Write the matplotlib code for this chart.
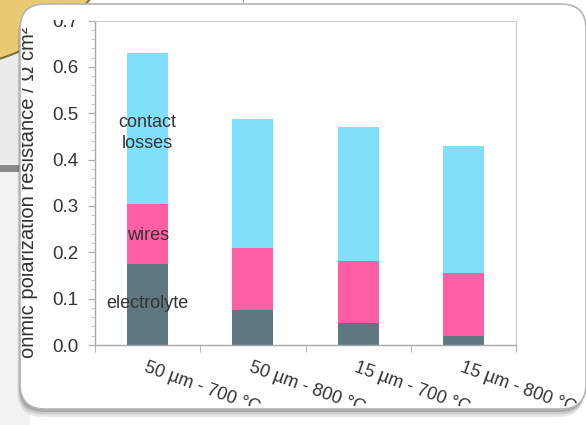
import matplotlib.pyplot as plt
from matplotlib.patches import FancyBboxPatch, Rectangle, Circle
from matplotlib.ticker import MultipleLocator, FixedLocator
import numpy as np

plt.rcParams['font.family'] = ['Liberation Sans', 'DejaVu Sans']

categories = ["50 µm - 700 °C", "50 µm - 800 °C", "15 µm - 700 °C", "15 µm - 800 °C"]
electrolyte = [0.175, 0.075, 0.047, 0.020]
wires = [0.130, 0.134, 0.134, 0.135]
contact_losses = [0.325, 0.279, 0.290, 0.275]

c_electrolyte = "#5f7781"
c_wires = "#ff60a4"
c_contact = "#80e0fb"

W, H = 5.86, 4.25
fig = plt.figure(figsize=(W, H), dpi=100)
fig.patch.set_facecolor("white")
inch = fig.dpi_scale_trans


def px(x, y):
    # image pixel coords (origin top-left) -> inches
    return x / 100.0, (425 - y) / 100.0


# slide background behind the panel
fig.patches.append(Rectangle(px(0, 165), 0.3, 1.3, transform=inch, facecolor="#ececec",
                             edgecolor="none", zorder=-5))
fig.patches.append(Rectangle(px(0, 172), 0.3, 0.07, transform=inch, facecolor="#8a8a8a",
                             edgecolor="none", zorder=-4))
fig.patches.append(Rectangle(px(0, 425), 0.3, 2.53, transform=inch, facecolor="#f2f2f2",
                             edgecolor="none", zorder=-5))
fig.patches.append(Circle(px(-60, -130), 1.98, transform=inch, facecolor="#e9ca72",
                          edgecolor="#7d7030", linewidth=1.5, zorder=-3))
fig.patches.append(Rectangle(px(243, 10), 0.012, 0.1, transform=inch, facecolor="#999999",
                             edgecolor="none", zorder=-3))

# rounded panel with soft shadow
bx0, by0 = px(20, 409)
bw, bh = 5.66, 4.05
for off, a in [(0.08, 0.10), (0.055, 0.15), (0.03, 0.22)]:
    fig.patches.append(FancyBboxPatch((bx0 - off * 0.3, by0 - off), bw, bh, transform=inch,
                                      boxstyle="round,pad=0,rounding_size=0.25",
                                      facecolor="#303030", edgecolor="none", alpha=a, zorder=-2))
panel = FancyBboxPatch((bx0, by0), bw, bh, transform=inch,
                       boxstyle="round,pad=0,rounding_size=0.25",
                       facecolor="white", edgecolor="#b5b5b5", linewidth=1.2, zorder=-1)
fig.patches.append(panel)

# chart area visible inside the panel
clip = Rectangle(px(22, 406), 5.55, 3.86, transform=inch, facecolor="none", edgecolor="none")
fig.patches.append(clip)

ax = fig.add_axes([95 / 586, 1 - 345 / 425, (516 - 95) / 586, (345 - 20.5) / 425])
ax.set_facecolor("white")

x = np.arange(len(categories))
width = 0.39
bottom2 = np.array(electrolyte) + np.array(wires)
ax.bar(x, electrolyte, width, color=c_electrolyte, zorder=2)
ax.bar(x, wires, width, bottom=electrolyte, color=c_wires, zorder=2)
ax.bar(x, contact_losses, width, bottom=bottom2, color=c_contact, zorder=2)

ax.set_xlim(-0.5, len(categories) - 0.5)
ax.set_ylim(0, 0.7)
ax.yaxis.set_major_locator(MultipleLocator(0.1))
ax.yaxis.set_minor_locator(MultipleLocator(0.02))
ax.yaxis.set_major_formatter(plt.FuncFormatter(lambda v, p: f"{v:.1f}"))
ax.xaxis.set_major_locator(FixedLocator(x))
ax.xaxis.set_minor_locator(FixedLocator(np.arange(-0.5, len(categories), 1.0)))
ax.set_xticklabels(categories, rotation=-20, ha="left", va="top", rotation_mode="anchor")

ax.tick_params(axis="x", which="major", length=0, pad=10, labelsize=13, labelcolor="#333333")
ax.tick_params(axis="x", which="minor", length=5, color="#aaaaaa", direction="out")
ax.tick_params(axis="y", which="major", length=5, pad=7, color="#aaaaaa", labelsize=13.5,
               labelcolor="#333333")
ax.tick_params(axis="y", which="minor", length=3, color="#bbbbbb")

for s in ["left", "bottom"]:
    ax.spines[s].set_color("#a8a8a8")
    ax.spines[s].set_linewidth(1.0)
for s in ["top", "right"]:
    ax.spines[s].set_color("#cfcfcf")
    ax.spines[s].set_linewidth(0.8)

ax.set_ylabel("ohmic polarization resistance / Ω cm²", fontsize=14.5, color="#333333")
ax.yaxis.set_label_coords(-0.135, 0.47)

# segment labels on the first bar
ax.text(0, 0.458, "contact\nlosses", ha="center", va="center",
        fontsize=13, color="#333333", linespacing=1.3, zorder=3)
ax.text(0, 0.237, "wires", ha="center", va="center",
        fontsize=13, color="#333333", zorder=3)
ax.text(0, 0.09, "electrolyte", ha="center", va="center",
        fontsize=13, color="#333333", zorder=3)

for t in ax.get_xticklabels() + ax.get_yticklabels() + [ax.yaxis.label]:
    t.set_clip_path(clip)

fig.savefig("out.png", dpi=100)
